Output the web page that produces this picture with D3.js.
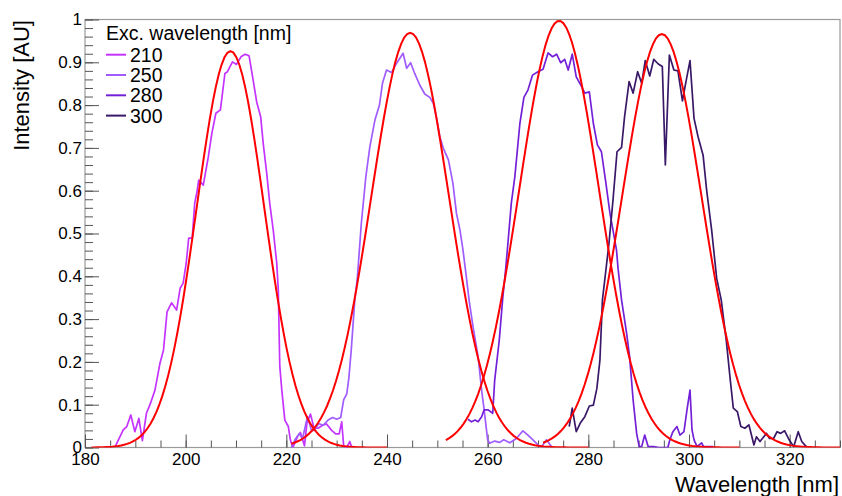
<!DOCTYPE html>
<html>
<head>
<meta charset="utf-8">
<script src="https://cdn.jsdelivr.net/npm/d3@7"></script>
<style>
  html, body { margin: 0; padding: 0; background: #fff; }
  svg { display: block; font-family: "Liberation Sans", Arial, Helvetica, sans-serif; }
</style>
</head>
<body>
<svg id="chart"></svg>
<script>
"use strict";

// excitation wavelengths (legend entries)
const excitations = ["210", "250", "280", "300"];
const seriesColors = ["#c533ff", "#a05cff", "#7420d8", "#3a1868"];

// measured spectra, wavelength [nm] and intensity [AU]
const wl210 = [186.0, 187.6, 188.3, 189.1, 189.9, 190.7, 191.4, 192.2, 193.0, 193.9, 194.9, 195.6, 196.3, 197.2, 198.2, 198.9, 199.5, 200.1, 200.6, 201.3, 201.8, 202.2, 202.6, 203.5, 204.5, 205.2, 206.0, 206.9, 207.8, 208.3, 209.3, 210.1, 211.0, 211.8, 212.6, 213.3, 214.1, 214.9, 215.4, 216.1, 216.7, 217.4, 218.1, 218.4, 218.7, 219.1, 219.7, 220.4, 220.8, 221.3, 222.2, 222.8, 223.6, 224.1, 224.8, 225.5, 226.3, 227.2, 228.0, 229.0, 229.8, 230.5, 231.0, 231.4, 232.0, 232.6, 233.0];
const int210 = [0.002, 0.041, 0.049, 0.076, 0.037, 0.068, 0.016, 0.080, 0.103, 0.134, 0.197, 0.228, 0.317, 0.338, 0.321, 0.372, 0.384, 0.430, 0.489, 0.489, 0.571, 0.594, 0.625, 0.613, 0.679, 0.734, 0.781, 0.789, 0.874, 0.878, 0.901, 0.895, 0.913, 0.919, 0.915, 0.866, 0.808, 0.773, 0.711, 0.641, 0.571, 0.508, 0.430, 0.368, 0.190, 0.134, 0.064, 0.049, 0.018, 0.000, 0.025, 0.035, 0.004, 0.058, 0.078, 0.045, 0.045, 0.052, 0.055, 0.040, 0.032, 0.032, 0.060, 0.003, 0.000, 0.014, 0.000];

const wl250 = [221.0, 221.8, 222.6, 223.2, 224.2, 225.0, 225.6, 226.4, 227.3, 228.3, 229.2, 230.0, 230.8, 231.4, 232.0, 232.4, 232.9, 233.6, 234.1, 234.9, 235.8, 236.6, 237.6, 238.5, 239.1, 239.9, 240.9, 241.9, 243.2, 243.9, 244.7, 245.5, 246.5, 247.5, 248.5, 249.2, 249.8, 250.5, 251.2, 252.2, 253.1, 253.8, 254.5, 255.1, 255.8, 256.3, 257.1, 258.1, 258.8, 259.3, 260.0, 260.4, 261.4, 262.4, 263.2, 264.4, 265.7, 267.0, 268.0, 269.0, 270.0, 270.7, 271.7, 272.7];
const int250 = [0.000, 0.020, 0.033, 0.020, 0.072, 0.040, 0.040, 0.056, 0.052, 0.064, 0.070, 0.066, 0.070, 0.112, 0.125, 0.160, 0.228, 0.345, 0.395, 0.524, 0.633, 0.703, 0.765, 0.800, 0.851, 0.882, 0.876, 0.898, 0.921, 0.886, 0.899, 0.874, 0.847, 0.826, 0.818, 0.804, 0.773, 0.726, 0.699, 0.672, 0.617, 0.547, 0.508, 0.461, 0.395, 0.345, 0.282, 0.212, 0.134, 0.088, 0.018, 0.010, 0.015, 0.012, 0.018, 0.011, 0.021, 0.039, 0.029, 0.018, 0.006, 0.002, 0.018, 0.002];

const wl280 = [256.1, 256.8, 257.5, 258.1, 258.8, 259.3, 260.1, 261.0, 261.4, 262.3, 263.0, 263.6, 264.7, 265.4, 266.4, 267.2, 268.0, 268.9, 270.0, 271.0, 272.0, 272.9, 273.7, 274.5, 275.3, 276.0, 276.8, 277.6, 278.5, 279.3, 280.2, 281.0, 281.8, 282.6, 283.5, 284.3, 284.9, 285.6, 285.9, 286.6, 287.6, 288.2, 288.9, 289.6, 290.1, 290.6, 291.2, 291.9, 293.0, 294.0, 295.0, 295.8, 296.2, 296.8, 297.6, 298.2, 299.0, 299.6, 300.2, 300.6, 301.0, 301.6, 302.5, 302.9, 304.8];
const int280 = [0.066, 0.060, 0.064, 0.060, 0.072, 0.088, 0.088, 0.080, 0.158, 0.250, 0.350, 0.419, 0.571, 0.633, 0.757, 0.818, 0.835, 0.870, 0.878, 0.884, 0.922, 0.913, 0.919, 0.899, 0.907, 0.882, 0.919, 0.866, 0.847, 0.828, 0.831, 0.757, 0.707, 0.691, 0.617, 0.547, 0.508, 0.461, 0.419, 0.345, 0.267, 0.212, 0.111, 0.033, 0.002, 0.002, 0.029, 0.002, 0.002, 0.000, 0.000, 0.000, 0.018, 0.037, 0.049, 0.029, 0.037, 0.088, 0.134, 0.041, 0.018, 0.002, 0.011, 0.002, 0.002];

const wl300 = [276.2, 276.8, 277.6, 278.4, 279.3, 280.2, 281.0, 281.7, 282.3, 282.8, 283.3, 284.1, 284.9, 285.7, 286.6, 287.2, 288.1, 288.9, 289.8, 290.6, 291.3, 292.2, 293.0, 293.9, 294.7, 295.3, 296.1, 297.0, 297.8, 298.7, 299.4, 300.2, 301.0, 301.8, 302.8, 303.5, 304.5, 305.5, 306.4, 307.4, 308.2, 308.8, 309.6, 310.3, 311.1, 311.9, 312.9, 313.4, 314.1, 315.4, 316.0, 316.8, 317.5, 318.2, 319.0, 319.9, 320.8, 321.7, 322.4, 323.3];
const int300 = [0.049, 0.092, 0.037, 0.057, 0.072, 0.097, 0.099, 0.138, 0.204, 0.345, 0.395, 0.477, 0.578, 0.691, 0.701, 0.773, 0.855, 0.828, 0.878, 0.851, 0.904, 0.868, 0.907, 0.896, 0.890, 0.660, 0.917, 0.882, 0.880, 0.810, 0.855, 0.904, 0.769, 0.726, 0.683, 0.602, 0.508, 0.395, 0.345, 0.251, 0.158, 0.092, 0.084, 0.049, 0.045, 0.053, 0.006, 0.025, 0.014, 0.033, 0.021, 0.021, 0.037, 0.033, 0.039, 0.018, 0.002, 0.037, 0.014, 0.002];

// gaussian fit parameters, one per spectrum
const fitAmp = [0.926, 0.969, 0.997, 0.966];
const fitMean = [208.9, 244.6, 274.2, 294.6];
const fitSigma = [6.7, 7.7, 7.9, 7.9];
const fitFrom = [181.3, 221.0, 251.7, 271.0];
const fitTo = [240.0, 280.0, 310.0, 330.0];

// axis ticks
const xTicks = [180, 200, 220, 240, 260, 280, 300, 320];
const yTicks = [0, 0.1, 0.2, 0.3, 0.4, 0.5, 0.6, 0.7, 0.8, 0.9, 1];

const WIDTH = 842;
const HEIGHT = 496;
const LEFT = 85, RIGHT = 840, TOP = 19.5, BOTTOM = 447.5;

let svg = d3.select("#chart")
    .attr("width", WIDTH)
    .attr("height", HEIGHT);

let x = d3.scaleLinear().domain([180, 330]).range([LEFT, RIGHT]);
let y = d3.scaleLinear().domain([0, 1]).range([BOTTOM, TOP]);

// frame
svg.append("rect")
    .attr("x", LEFT).attr("y", TOP)
    .attr("width", RIGHT - LEFT).attr("height", BOTTOM - TOP)
    .attr("fill", "none")
    .attr("stroke", "#9a9a9a")
    .attr("stroke-width", 1.2);

// x axis: minor ticks then major ticks with labels
svg.append("g")
    .attr("class", "minor")
    .attr("transform", "translate(0," + BOTTOM + ")")
    .call(d3.axisBottom(x).tickValues(d3.range(180, 331, 5)).tickSize(-7).tickFormat(""));

svg.append("g")
    .attr("class", "major")
    .attr("transform", "translate(0," + BOTTOM + ")")
    .call(d3.axisBottom(x).tickValues(xTicks).tickSize(-13).tickPadding(5).tickFormat(d3.format("d")));

// y axis
svg.append("g")
    .attr("class", "minor")
    .attr("transform", "translate(" + LEFT + ",0)")
    .call(d3.axisLeft(y).tickValues(d3.range(0, 1.001, 0.02)).tickSize(-8).tickFormat(""));

svg.append("g")
    .attr("class", "major")
    .attr("transform", "translate(" + LEFT + ",0)")
    .call(d3.axisLeft(y).tickValues(yTicks).tickSize(-14).tickPadding(3).tickFormat(d3.format("~g")));

svg.selectAll(".minor .domain, .major .domain").remove();
svg.selectAll(".tick line").attr("stroke", "#555").attr("stroke-width", 1);
svg.selectAll(".major text")
    .attr("font-family", "'Liberation Sans', Arial, sans-serif")
    .attr("font-size", 17)
    .attr("fill", "#000");

// axis titles
svg.append("text")
    .attr("x", 839).attr("y", 492)
    .attr("text-anchor", "end")
    .attr("font-size", 22)
    .text("Wavelength [nm]");

svg.append("text")
    .attr("transform", "translate(29,20) rotate(-90)")
    .attr("text-anchor", "end")
    .attr("font-size", 22)
    .text("Intensity [AU]");

// plot contents
svg.append("clipPath").attr("id", "plotclip")
    .append("rect")
    .attr("x", LEFT).attr("y", TOP - 2)
    .attr("width", RIGHT - LEFT).attr("height", BOTTOM - TOP + 2);

let plot = svg.append("g").attr("clip-path", "url(#plotclip)");

let line = d3.line()
    .x((d)=>{return x(d[0]);})
    .y((d)=>{return y(d[1]);});

const spectra = [
    d3.zip(wl210, int210),
    d3.zip(wl250, int250),
    d3.zip(wl280, int280),
    d3.zip(wl300, int300)
];

spectra.forEach((s, i)=>
{
    plot.append("path")
        .datum(s)
        .attr("fill", "none")
        .attr("stroke", seriesColors[i])
        .attr("stroke-width", 1.7)
        .attr("stroke-linejoin", "round")
        .attr("d", line);
});

// fitted gaussians drawn over their fit range
fitAmp.forEach((a, i)=>
{
    let pts = d3.range(0, 101).map((k)=>
    {
        let w = fitFrom[i] + (fitTo[i] - fitFrom[i]) * k / 100;
        let z = (w - fitMean[i]) / fitSigma[i];
        return [w, a * Math.exp(-0.5 * z * z)];
    });
    plot.append("path")
        .datum(pts)
        .attr("fill", "none")
        .attr("stroke", "#ff0000")
        .attr("stroke-width", 2)
        .attr("d", line);
});

// legend
let legend = svg.append("g").attr("font-size", 19.5);

legend.append("text")
    .attr("x", 106).attr("y", 40)
    .text("Exc. wavelength [nm]");

excitations.forEach((label, i)=>
{
    let ly = 54.7 + i * 20.3;
    legend.append("line")
        .attr("x1", 106).attr("x2", 126)
        .attr("y1", ly).attr("y2", ly)
        .attr("stroke", seriesColors[i])
        .attr("stroke-width", 2);
    legend.append("text")
        .attr("x", 130).attr("y", ly + 7)
        .text(label);
});
</script>
</body>
</html>
